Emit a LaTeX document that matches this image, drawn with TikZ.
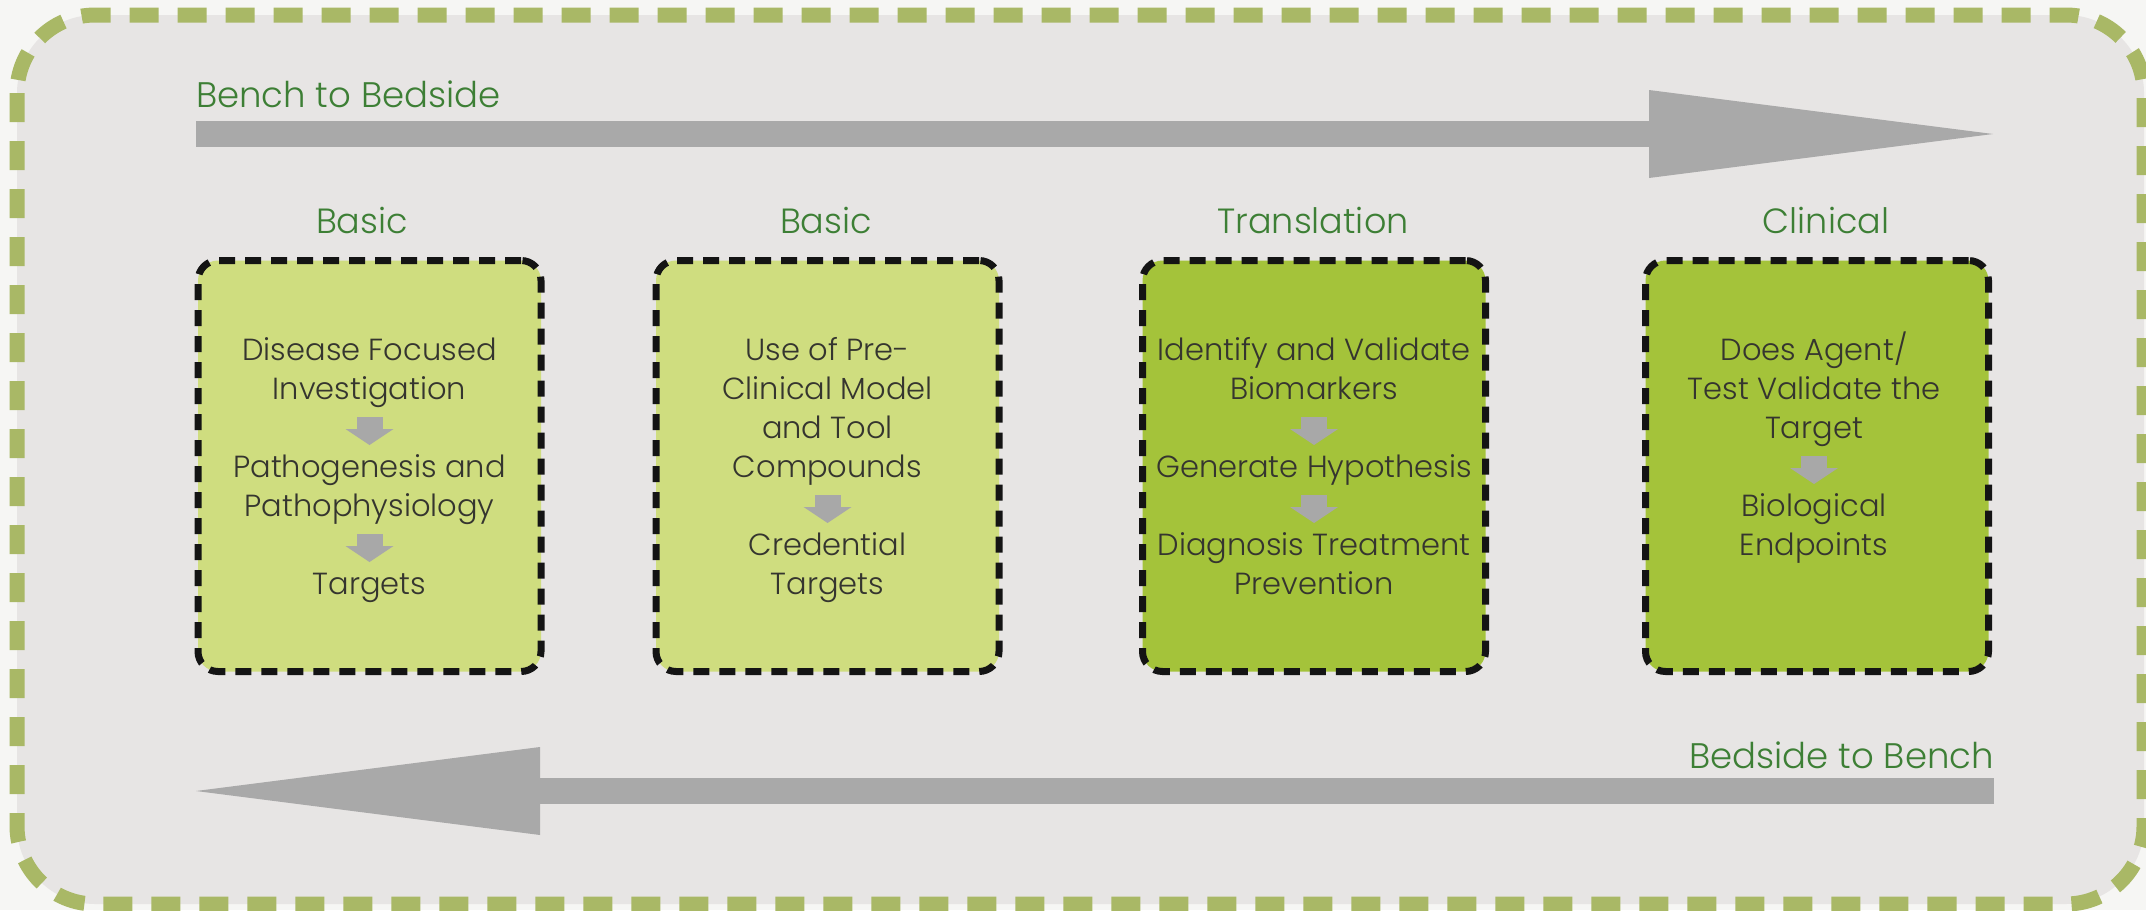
\documentclass[tikz,border=0pt]{standalone}
\usepackage{fontspec}
\setmainfont{Poppins Light}
\usetikzlibrary{arrows.meta,calc}
\definecolor{outerbg}{HTML}{F6F6F4}
\definecolor{innerbg}{HTML}{E7E5E4}
\definecolor{framegreen}{HTML}{A9B866}
\definecolor{arrowgray}{HTML}{A9A9A9}
\definecolor{titlegreen}{HTML}{3D7F35}
\definecolor{lightfill}{HTML}{CFDD7F}
\definecolor{darkfill}{HTML}{A4C33A}
\definecolor{boxtext}{HTML}{35352F}
\definecolor{innerarrow}{HTML}{A8A8A8}
\tikzset{
  frameline/.style={draw=framegreen, fill=innerbg, line width=15pt, rounded corners=78pt, dash pattern=on 29pt off 19pt},
  bigarrow/.style={draw=arrowgray, line width=26pt, line cap=butt, -{Triangle[length=344pt,width=88pt,line width=0pt]}},
  stagebox/.style={draw=black!92, line width=7pt, rounded corners=20pt, dash pattern=on 16pt off 10pt, minimum width=343pt, minimum height=411pt, inner sep=0pt},
  boxtxt/.style={font=\fontsize{30.5}{39}\selectfont, text=boxtext, inner sep=0pt, anchor=base},
  ttl/.style={font=\fontsize{35}{42}\selectfont, text=titlegreen, inner sep=0pt, anchor=base},
  lbl/.style={font=\fontsize{35.5}{44}\selectfont, text=titlegreen, inner sep=0pt},
  inarr/.style={draw=innerarrow, line width=26pt, line cap=butt, -{Triangle[length=16pt,width=48pt,line width=0pt]}}
}
\newcommand{\inarrow}[2]{\draw[inarr] ($(#1.base)!0.5!(#2.base)+(0,-21)$) -- ($(#1.base)!0.5!(#2.base)+(0,7)$);}
\begin{document}
\begin{tikzpicture}[x=1pt,y=-1pt]
\fill[outerbg] (0,0) rectangle (2146,910);
\useasboundingbox (0,0) rectangle (2146,910);
\path[frameline] (17,15) rectangle (2144,904);

% big arrows
\coordinate (topS) at (196,134);
\coordinate (topE) at (1993,134);
\draw[bigarrow] (topS) -- (topE);
\coordinate (botS) at (1994,791);
\coordinate (botE) at (196,791);
\draw[bigarrow] (botS) -- (botE);
\node[lbl, anchor=base west] (lblTop) at (196,107) {Bench to Bedside};
\node[lbl, anchor=base east] (lblBot) at (1994,768) {Bedside to Bench};

% titles
\node[ttl] (t1) at (362,233) {Basic};
\node[ttl] (t2) at (826,233) {Basic};
\node[ttl] (t3) at (1313,233) {Translation};
\node[ttl] (t4) at (1826,233) {Clinical};

% boxes
\node[stagebox, fill=lightfill] (box1) at (369.5,466) {};
\node[stagebox, fill=lightfill] (box2) at (827.5,466) {};
\node[stagebox, fill=darkfill] (box3) at (1314,466) {};
\node[stagebox, fill=darkfill] (box4) at (1817,466) {};

% box 1
\node[boxtxt] (b1l1) at (369.5,360) {Disease Focused};
\node[boxtxt] (b1l2) at (369.5,399) {Investigation};
\node[boxtxt] (b1l3) at (369.5,477) {Pathogenesis and};
\node[boxtxt] (b1l4) at (369.5,516) {Pathophysiology};
\node[boxtxt] (b1l5) at (369.5,594) {Targets};
\inarrow{b1l2}{b1l3}
\inarrow{b1l4}{b1l5}

% box 2
\node[boxtxt] (b2l1) at (827.5,360) {Use of Pre-};
\node[boxtxt] (b2l2) at (827.5,399) {Clinical Model};
\node[boxtxt] (b2l3) at (827.5,438) {and Tool};
\node[boxtxt] (b2l4) at (827.5,477) {Compounds};
\node[boxtxt] (b2l5) at (827.5,555) {Credential};
\node[boxtxt] (b2l6) at (827.5,594) {Targets};
\inarrow{b2l4}{b2l5}

% box 3
\node[boxtxt] (b3l1) at (1314,360) {Identify and Validate};
\node[boxtxt] (b3l2) at (1314,399) {Biomarkers};
\node[boxtxt] (b3l3) at (1314,477) {Generate Hypothesis};
\node[boxtxt] (b3l4) at (1314,555) {Diagnosis Treatment};
\node[boxtxt] (b3l5) at (1314,594) {Prevention};
\inarrow{b3l2}{b3l3}
\inarrow{b3l3}{b3l4}

% box 4
\node[boxtxt] (b4l1) at (1814,360) {Does Agent/};
\node[boxtxt] (b4l2) at (1814,399) {Test Validate the};
\node[boxtxt] (b4l3) at (1814,438) {Target};
\node[boxtxt] (b4l4) at (1814,516) {Biological};
\node[boxtxt] (b4l5) at (1814,555) {Endpoints};
\inarrow{b4l3}{b4l4}
\end{tikzpicture}
\end{document}
